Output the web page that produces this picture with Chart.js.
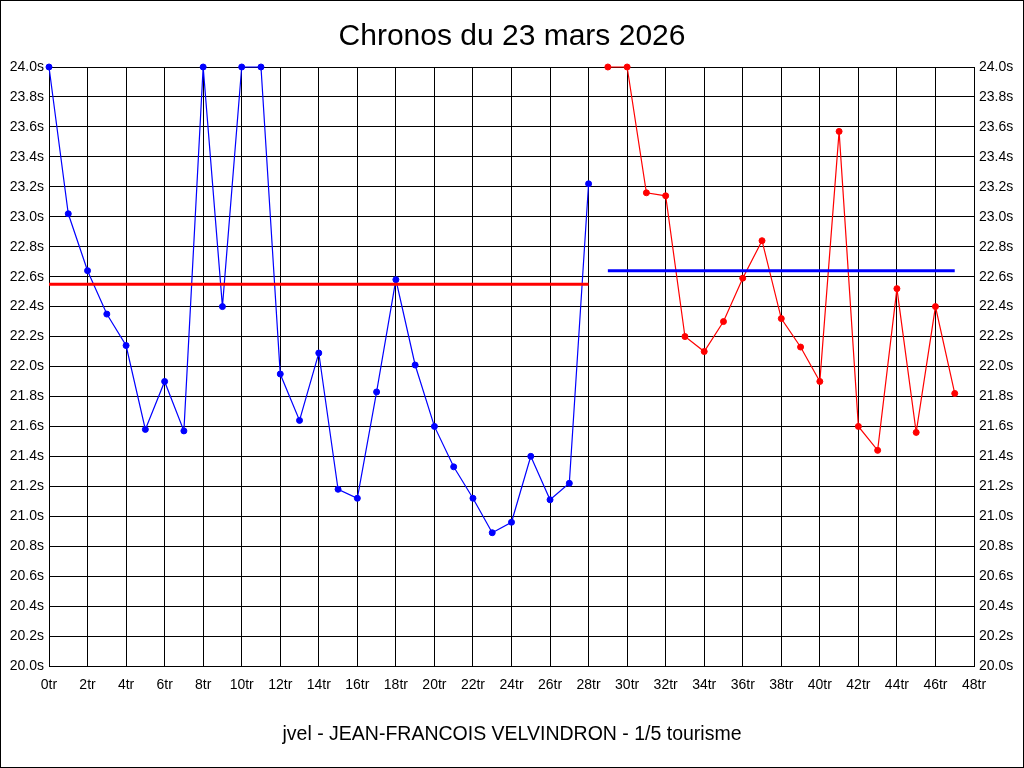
<!DOCTYPE html>
<html>
<head>
<meta charset="utf-8">
<title>Chronos du 23 mars 2026</title>
<script src="https://cdn.jsdelivr.net/npm/chart.js@4/dist/chart.umd.min.js"></script>
<style>
  html, body { margin: 0; padding: 0; background: #fff; }
  canvas { display: block; }
</style>
</head>
<body>
<canvas id="chronoChart" width="1024" height="768"></canvas>
<script>
// temps au tour (secondes)
const chronos1 = [24.0, 23.02, 22.64, 22.35, 22.14, 21.58, 21.90, 21.57, 24.0, 22.40,
                  24.0, 24.0, 21.95, 21.64, 22.09, 21.18, 21.12, 21.83, 22.58, 22.01,
                  21.60, 21.33, 21.12, 20.89, 20.96, 21.40, 21.11, 21.22, 23.22];
const chronos2 = [24.0, 24.0, 23.16, 23.14, 22.20, 22.10, 22.30, 22.59, 22.84, 22.32,
                  22.13, 21.90, 23.57, 21.60, 21.44, 22.52, 21.56, 22.40, 21.82];
const premierTour1 = 0;
const premierTour2 = 29;
const moyenne1 = 22.55;
const moyenne2 = 22.64;

const titre = 'Chronos du 23 mars 2026';
const pilote = 'jvel - JEAN-FRANCOIS VELVINDRON - 1/5 tourisme';

const toPoints = (vals, start) => vals.map((v, i) => ({ x: start + i, y: v }));
const lastLap = (vals, start) => start + vals.length - 1;

const frame = {
  id: 'frame',
  afterDraw(chart) {
    const c = chart.ctx;
    c.save();
    c.strokeStyle = '#000';
    c.lineWidth = 1;
    c.strokeRect(0.5, 0.5, chart.width - 1, chart.height - 1);
    c.restore();
  }
};

const tickFont = { family: '"Liberation Sans", Arial, sans-serif', size: 14 };
const fmtSec = v => v.toFixed(1) + 's';

const ctx = document.getElementById('chronoChart').getContext('2d');
const chart = new Chart(ctx, {
  type: 'line',
  data: {
    datasets: [
      {
        data: [{ x: premierTour1, y: moyenne1 }, { x: lastLap(chronos1, premierTour1), y: moyenne1 }],
        borderColor: '#ff0000',
        borderWidth: 3,
        pointRadius: 0
      },
      {
        data: [{ x: premierTour2, y: moyenne2 }, { x: lastLap(chronos2, premierTour2), y: moyenne2 }],
        borderColor: '#0000ff',
        borderWidth: 3,
        pointRadius: 0
      },
      {
        data: toPoints(chronos1, premierTour1),
        borderColor: '#0000ff',
        backgroundColor: '#0000ff',
        borderWidth: 1.2,
        pointRadius: 3,
        pointBorderWidth: 1
      },
      {
        data: toPoints(chronos2, premierTour2),
        borderColor: '#ff0000',
        backgroundColor: '#ff0000',
        borderWidth: 1.2,
        pointRadius: 3,
        pointBorderWidth: 1
      }
    ]
  },
  options: {
    responsive: false,
    animation: false,
    devicePixelRatio: 1,
    clip: false,
    layout: { padding: 0 },
    plugins: {
      legend: { display: false },
      tooltip: { enabled: false },
      title: {
        display: true,
        text: titre,
        color: '#000',
        font: { family: '"Liberation Sans", Arial, sans-serif', size: 30, weight: 'normal' },
        padding: { top: 19, bottom: 12 }
      },
      subtitle: {
        display: true,
        position: 'bottom',
        text: pilote,
        color: '#000',
        font: { family: '"Liberation Sans", Arial, sans-serif', size: 19.5, weight: 'normal' },
        padding: { top: 7.3, bottom: 21.3 }
      }
    },
    scales: {
      x: {
        type: 'linear',
        min: 0,
        max: 48,
        afterFit: s => { s.height = 50; },
        border: { color: '#000' },
        grid: { color: '#000', drawTicks: false },
        ticks: {
          stepSize: 2,
          autoSkip: false,
          maxRotation: 0,
          padding: 11,
          color: '#000',
          font: tickFont,
          callback: v => v + 'tr'
        }
      },
      y: {
        position: 'left',
        min: 20,
        max: 24,
        afterFit: s => { s.width = 49; },
        border: { color: '#000' },
        grid: { color: '#000', drawTicks: false },
        ticks: { stepSize: 0.2, padding: 5, color: '#000', font: tickFont, callback: fmtSec }
      },
      y2: {
        position: 'right',
        min: 20,
        max: 24,
        afterFit: s => { s.width = 50; },
        border: { color: '#000' },
        grid: { drawOnChartArea: false, drawTicks: false },
        ticks: { stepSize: 0.2, padding: 5, color: '#000', font: tickFont, callback: fmtSec }
      }
    }
  },
  plugins: [frame]
});
</script>
</body>
</html>
